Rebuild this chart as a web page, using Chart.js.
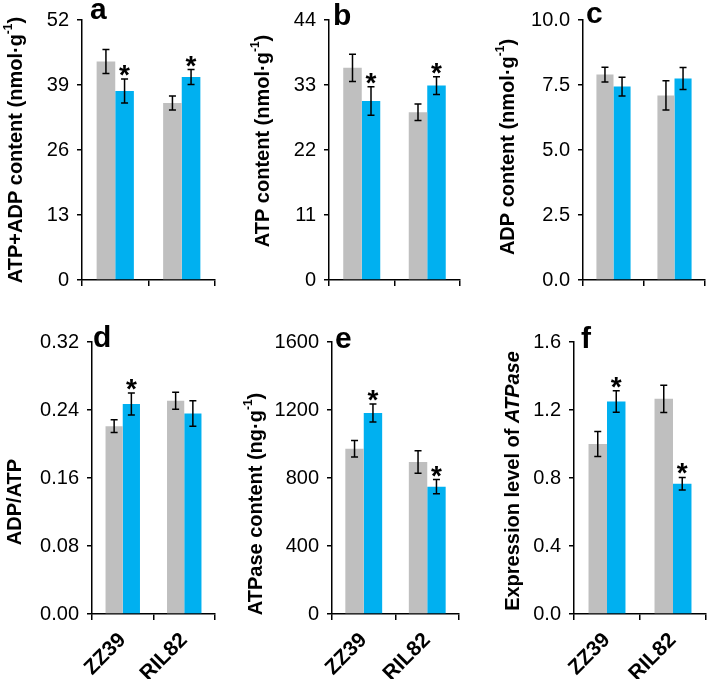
<!DOCTYPE html>
<html>
<head>
<meta charset="utf-8">
<script src="https://cdn.jsdelivr.net/npm/chart.js@4.4.1/dist/chart.umd.min.js"></script>
<style>
body { margin: 0; background: #fff; }
#wrap { position: relative; width: 709px; height: 679px; overflow: hidden; }
canvas { position: absolute; }
</style>
</head>
<body>
<div id="wrap"></div>
<script>
// data
const genotypes = ['ZZ39', 'RIL82'];

// a: ATP+ADP content
const aGray = [43.7, 35.4], aGrayErr = [2.4, 1.4];
const aBlue = [37.8, 40.6], aBlueErr = [2.4, 1.5];
const aSig = [true, true];
const aTicks = ['0', '13', '26', '39', '52'];

// b: ATP content
const bGray = [35.9, 28.4], bGrayErr = [2.3, 1.4];
const bBlue = [30.3, 32.9], bBlueErr = [2.4, 1.5];
const bSig = [true, true];
const bTicks = ['0', '11', '22', '33', '44'];

// c: ADP content
const cGray = [7.90, 7.10], cGrayErr = [0.28, 0.56];
const cBlue = [7.44, 7.75], cBlueErr = [0.36, 0.42];
const cSig = [false, false];
const cTicks = ['0.0', '2.5', '5.0', '7.5', '10.0'];

// d: ADP/ATP
const dGray = [0.221, 0.251], dGrayErr = [0.0075, 0.010];
const dBlue = [0.247, 0.236], dBlueErr = [0.013, 0.015];
const dSig = [true, false];
const dTicks = ['0.00', '0.08', '0.16', '0.24', '0.32'];

// e: ATPase content
const eGray = [972, 894], eGrayErr = [48, 66];
const eBlue = [1182, 749], eBlueErr = [53, 42];
const eSig = [true, true];
const eTicks = ['0', '400', '800', '1200', '1600'];

// f: ATPase expression
const fGray = [1.00, 1.266], fGrayErr = [0.073, 0.08];
const fBlue = [1.25, 0.766], fBlueErr = [0.063, 0.037];
const fSig = [true, true];
const fTicks = ['0.0', '0.4', '0.8', '1.2', '1.6'];

const FONT = '"Liberation Sans", Arial, sans-serif';
const GRAY = '#bfbfbf';
const BLUE = '#00b0f0';

// error bars, asterisks, y titles and panel letters
const decor = {
    id: 'decor',
    afterDatasetsDraw(chart, args, o) {
        const ctx = chart.ctx;
        const y = chart.scales.y;
        ctx.save();
        ctx.strokeStyle = '#000';
        ctx.fillStyle = '#000';
        ctx.lineWidth = 1.5;
        chart.data.datasets.forEach((ds, di) => {
            chart.getDatasetMeta(di).data.forEach((bar, i) => {
                const v = ds.data[i], e = o.err[di][i];
                const top = y.getPixelForValue(v + e);
                const bot = y.getPixelForValue(v - e);
                ctx.beginPath();
                ctx.moveTo(bar.x, top); ctx.lineTo(bar.x, bot);
                ctx.moveTo(bar.x - 3.5, top); ctx.lineTo(bar.x + 3.5, top);
                ctx.moveTo(bar.x - 3.5, bot); ctx.lineTo(bar.x + 3.5, bot);
                ctx.stroke();
                if (di === 1 && o.sig[i]) {
                    ctx.font = 'bold 28px ' + FONT;
                    ctx.textAlign = 'center';
                    ctx.textBaseline = 'alphabetic';
                    ctx.fillText('*', bar.x, top + 5);
                }
            });
        });

        // panel letter
        ctx.font = 'bold 30px ' + FONT;
        ctx.textAlign = 'left';
        ctx.textBaseline = 'alphabetic';
        ctx.fillText(o.letter[0], o.letter[1], o.letter[2]);

        // y title, rotated, with superscripts / italics
        ctx.translate(o.titlePos[0], o.titlePos[1]);
        ctx.rotate(-Math.PI / 2);
        ctx.textBaseline = 'middle';
        const size = 20;
        const fontOf = s => (s.it ? 'italic ' : '') + 'bold ' + (s.sup ? Math.round(size * 0.6) : size) + 'px ' + FONT;
        let total = 0;
        o.title.forEach(s => { ctx.font = fontOf(s); total += ctx.measureText(s.t).width; });
        let x = -total / 2;
        o.title.forEach(s => {
            ctx.font = fontOf(s);
            ctx.fillText(s.t, x, s.sup ? -size * 0.35 : 0);
            x += ctx.measureText(s.t).width;
        });
        ctx.restore();
    }
};

function panel(p) {
    const cv = document.createElement('canvas');
    cv.width = p.box[2];
    cv.height = p.box[3];
    cv.style.left = p.box[0] + 'px';
    cv.style.top = p.box[1] + 'px';
    document.getElementById('wrap').appendChild(cv);
    const tickVals = p.ticks.map(Number);
    return new Chart(cv, {
        type: 'bar',
        data: {
            labels: genotypes,
            datasets: [
                { data: p.gray, backgroundColor: GRAY, categoryPercentage: p.cat, barPercentage: 1 },
                { data: p.blue, backgroundColor: BLUE, categoryPercentage: p.cat, barPercentage: 1 }
            ]
        },
        options: {
            responsive: false,
            animation: false,
            devicePixelRatio: 1,
            layout: { padding: { top: p.padTop, right: p.padRight, left: 0, bottom: 0 } },
            plugins: {
                legend: { display: false },
                tooltip: { enabled: false },
                decor: { err: p.err, sig: p.sig, title: p.title, titlePos: p.titlePos, letter: p.letter }
            },
            scales: {
                x: {
                    grid: { offset: true, drawOnChartArea: false, color: '#000', lineWidth: 1.5, tickLength: 6 },
                    border: { color: '#000', width: 1.5 },
                    ticks: {
                        display: p.showX, maxRotation: 45, minRotation: 45, padding: 8,
                        color: '#000', font: { family: FONT, size: 21, weight: 'bold' }
                    },
                    afterFit: s => { s.height = p.xH; }
                },
                y: {
                    min: tickVals[0],
                    max: tickVals[tickVals.length - 1],
                    grid: { drawOnChartArea: false, color: '#000', lineWidth: 1.5, tickLength: 5 },
                    border: { color: '#000', width: 1.5 },
                    ticks: {
                        padding: 8, color: '#000', font: { family: FONT, size: 20 },
                        callback: (v, i) => p.ticks[i]
                    },
                    afterBuildTicks: s => { s.ticks = tickVals.map(v => ({ value: v })); },
                    afterFit: s => { s.width = p.yW; }
                }
            }
        },
        plugins: [decor]
    });
}

const unit = [{ t: ' (nmol·g' }, { t: '-1', sup: true }, { t: ')' }];

panel({ box: [0, 0, 225, 300], yW: 82, padTop: 14, padRight: 10, xH: 13, showX: false, cat: 0.56,
    gray: aGray, blue: aBlue, err: [aGrayErr, aBlueErr], sig: aSig, ticks: aTicks,
    title: [{ t: 'ATP+ADP content' }].concat(unit), titlePos: [16, 150], letter: ['a', 90, 19] });
panel({ box: [225, 0, 243, 300], yW: 104, padTop: 14, padRight: 8, xH: 13, showX: false, cat: 0.565,
    gray: bGray, blue: bBlue, err: [bGrayErr, bBlueErr], sig: bSig, ticks: bTicks,
    title: [{ t: 'ATP content' }].concat(unit), titlePos: [38, 141], letter: ['b', 108, 25] });
panel({ box: [468, 0, 241, 300], yW: 115, padTop: 14, padRight: 4, xH: 13, showX: false, cat: 0.56,
    gray: cGray, blue: cBlue, err: [cGrayErr, cBlueErr], sig: cSig, ticks: cTicks,
    title: [{ t: 'ADP content' }].concat(unit), titlePos: [40, 147], letter: ['c', 118, 23] });
panel({ box: [0, 300, 225, 379], yW: 92, padTop: 42, padRight: 10, xH: 65, showX: true, cat: 0.56,
    gray: dGray, blue: dBlue, err: [dGrayErr, dBlueErr], sig: dSig, ticks: dTicks,
    title: [{ t: 'ADP/ATP' }], titlePos: [15, 202], letter: ['d', 93, 47] });
panel({ box: [225, 300, 243, 379], yW: 107, padTop: 42, padRight: 9, xH: 65, showX: true, cat: 0.58,
    gray: eGray, blue: eBlue, err: [eGrayErr, eBlueErr], sig: eSig, ticks: eTicks,
    title: [{ t: 'ATPase content (ng·g' }, { t: '-1', sup: true }, { t: ')' }], titlePos: [31, 204], letter: ['e', 110, 48] });
panel({ box: [468, 300, 241, 379], yW: 106, padTop: 42, padRight: 3, xH: 65, showX: true, cat: 0.56,
    gray: fGray, blue: fBlue, err: [fGrayErr, fBlueErr], sig: fSig, ticks: fTicks,
    title: [{ t: 'Expression level of ' }, { t: 'ATPase', it: true }], titlePos: [45, 181], letter: ['f', 113, 48] });
</script>
</body>
</html>
